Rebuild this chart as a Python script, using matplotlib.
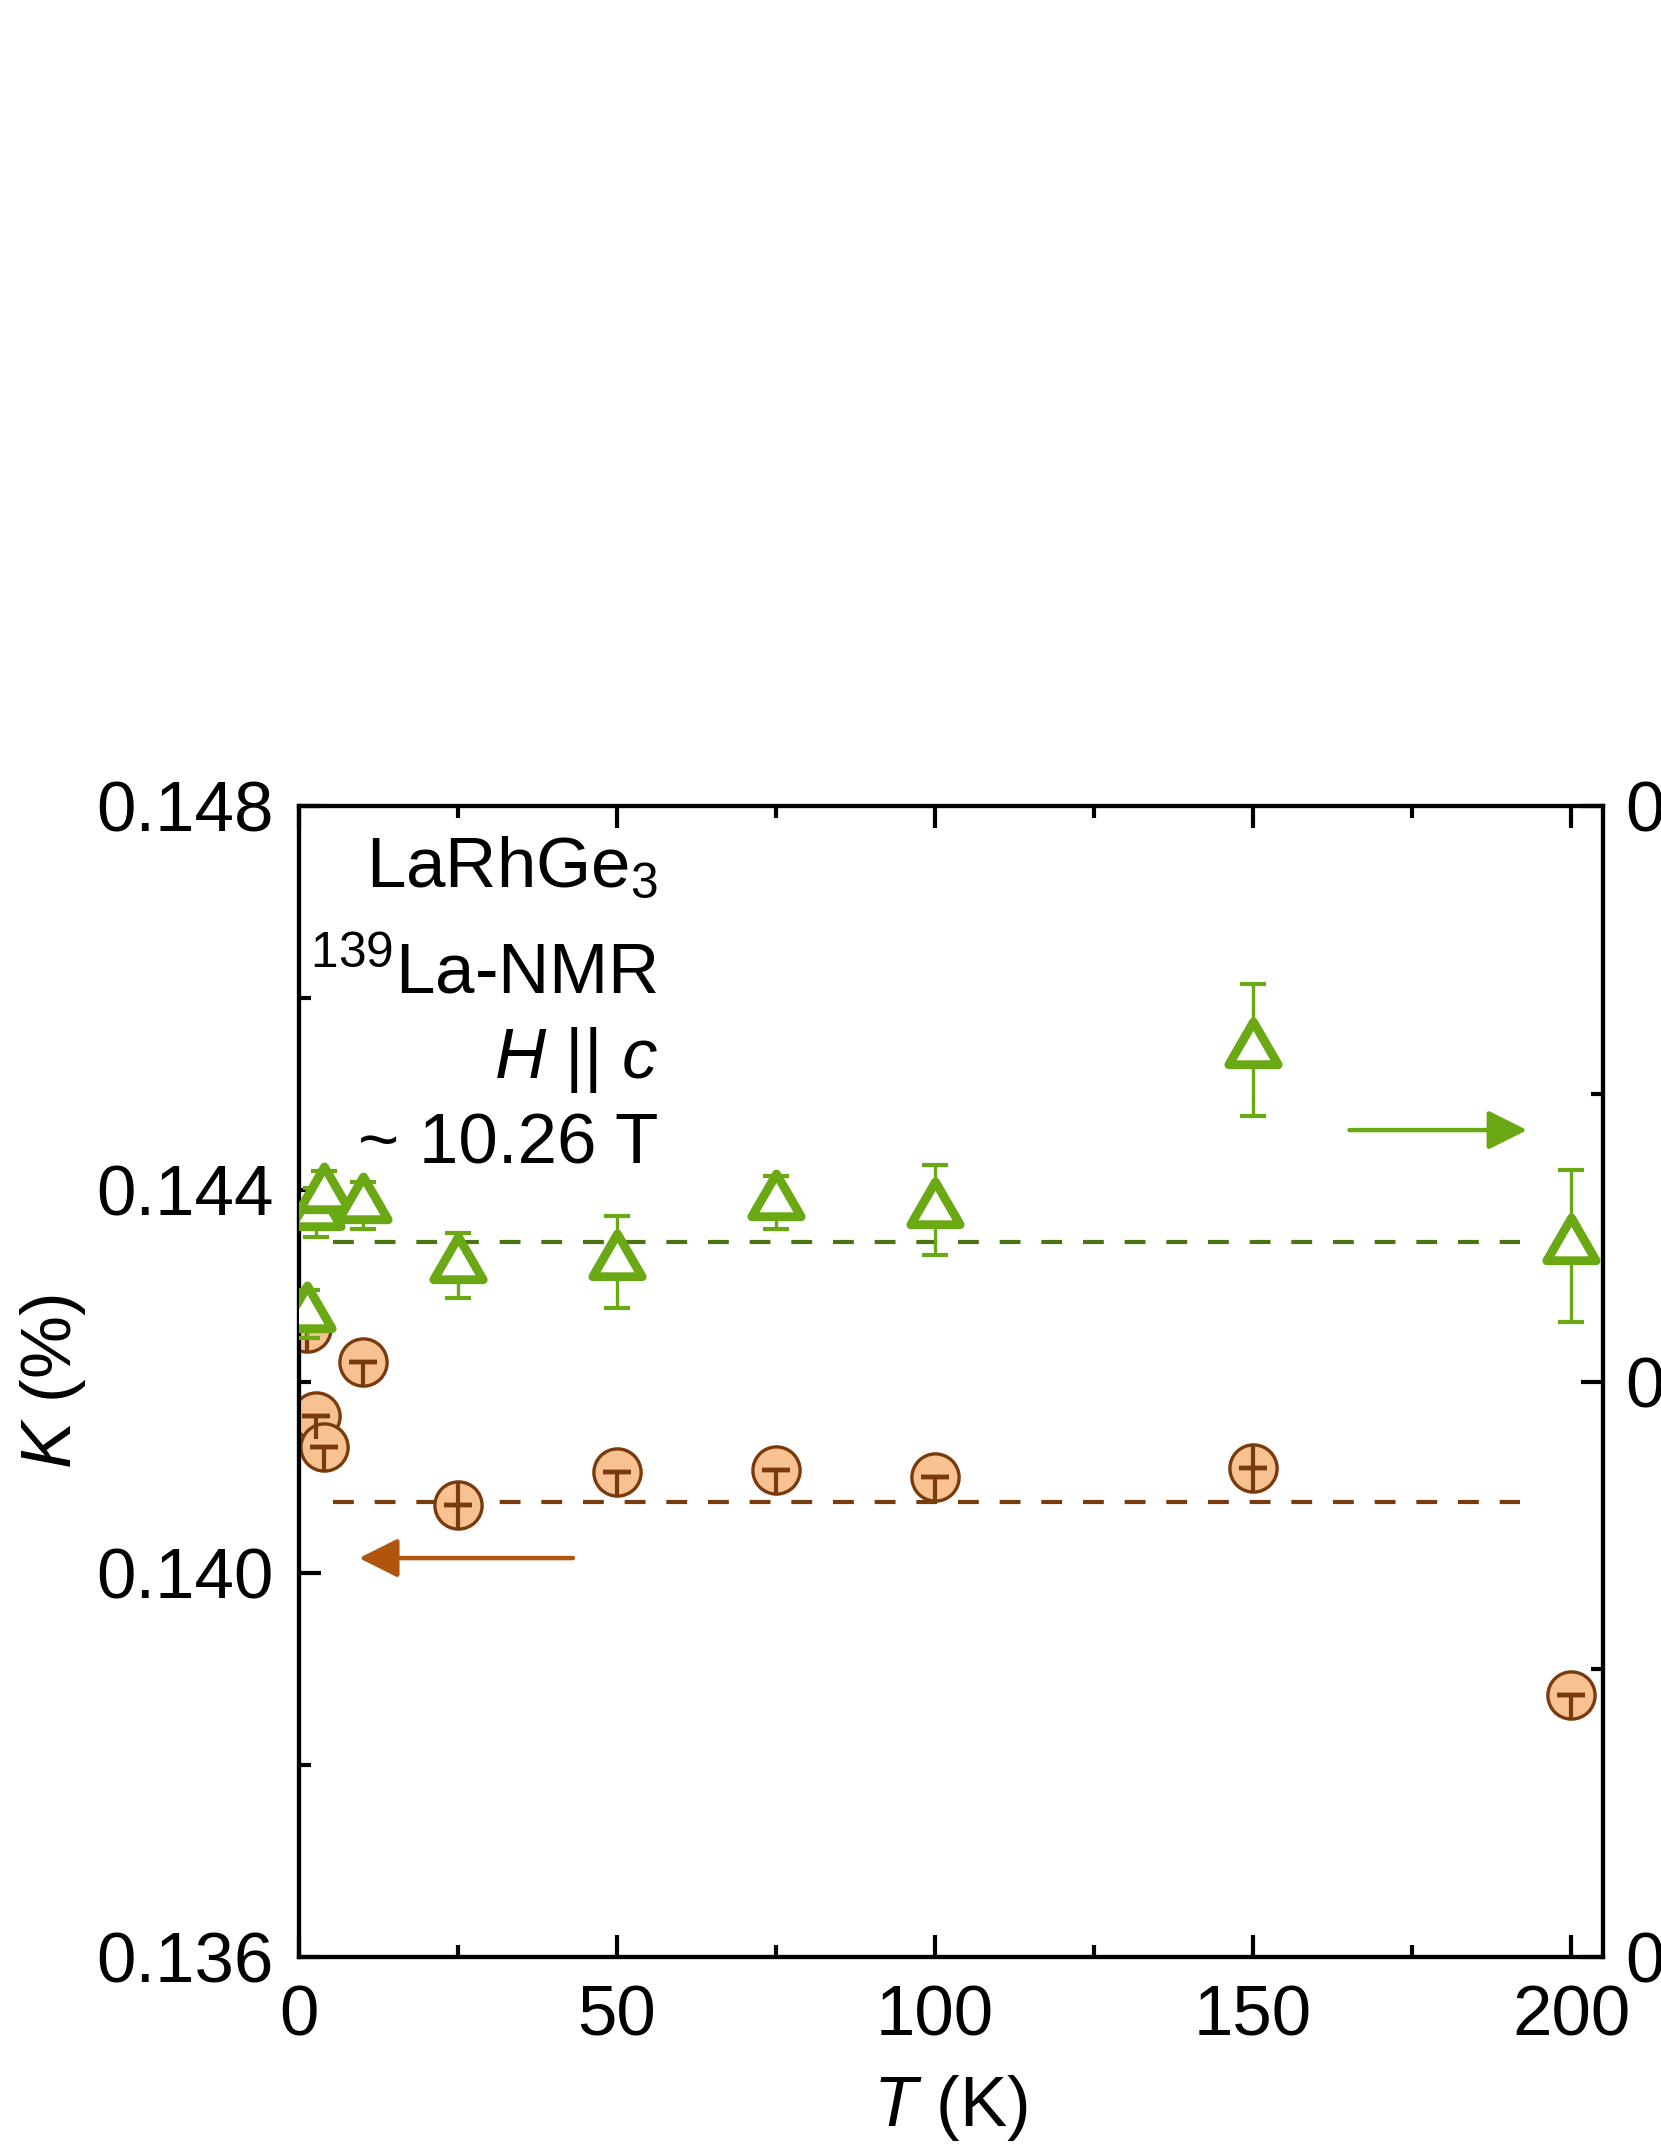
import matplotlib

matplotlib.use("Agg")
import matplotlib.pyplot as plt
from matplotlib.path import Path
from matplotlib.ticker import MultipleLocator, FormatStrFormatter

plt.rcParams["font.family"] = ["Liberation Sans", "DejaVu Sans"]
plt.rcParams["mathtext.fontset"] = "custom"
plt.rcParams["mathtext.rm"] = "Liberation Sans"
plt.rcParams["mathtext.it"] = "Liberation Sans:italic"

# temperature (K)
T = [1.3, 2.7, 4.0, 10, 25, 50, 75, 100, 150, 200]

# left axis: K (%) of the orange series
k_left = [0.14256, 0.14164, 0.14132, 0.14220, 0.14071, 0.14106, 0.14108, 0.14101, 0.14110, 0.13873]
k_left_lo = [0.00024] * 10
k_left_hi = [0.00024, 0, 0, 0, 0.00024, 0, 0, 0, 0.00024, 0]
k_left_mean = 0.14074

# right axis: K (%) of the green series
k_right = [0.3559, 0.3647, 0.3662, 0.3653, 0.3601, 0.3604, 0.3656, 0.3649, 0.3788, 0.3618]
k_right_err = [0.0021, 0.0021, 0.0021, 0.0020, 0.00285, 0.0040, 0.0023, 0.0039, 0.0057, 0.0066]
k_right_mean = 0.36215

ORANGE_FACE = "#F7C192"
ORANGE_EDGE = "#7A3B0C"
ORANGE_ARROW = "#B0540E"
GREEN = "#6AA814"
GREEN_DARK = "#4A7410"
FS = 51

fig = plt.figure(figsize=(16.61, 21.49), dpi=100)
ax = fig.add_axes([0.18, 0.0893, 0.7851, 0.5356])
ax2 = ax.twinx()

# orange circles, error bars drawn over the fill
ax.plot(T, k_left, "o", ms=34, mfc=ORANGE_FACE, mec=ORANGE_EDGE, mew=2.4, zorder=3)
ax.errorbar(T, k_left, yerr=[k_left_lo, k_left_hi], fmt="none", ecolor=ORANGE_EDGE,
            elinewidth=3, capsize=0, zorder=4)
ax.errorbar(T, k_left, yerr=[0] * len(T), fmt="none", ecolor=ORANGE_EDGE,
            elinewidth=3, capsize=10, capthick=3.2, zorder=4)
ax.plot([5.3, 192], [k_left_mean] * 2, ls=(0, (5, 5)), lw=3, color=ORANGE_EDGE, zorder=2)

# green triangles on the right axis
tri = Path([(-1, -0.577), (1, -0.577), (0, 1.155), (-1, -0.577)],
           [Path.MOVETO, Path.LINETO, Path.LINETO, Path.CLOSEPOLY])
ax2.errorbar(T, k_right, yerr=k_right_err, fmt="none", ecolor=GREEN, elinewidth=2.4,
             capsize=9.5, capthick=3, zorder=3)
ax2.plot(T, k_right, ls="none", marker=tri, ms=41, mfc="white", mec=GREEN, mew=6.4,
         zorder=4)
ax2.plot([5.3, 192], [k_right_mean] * 2, ls=(0, (5, 5)), lw=3, color=GREEN_DARK, zorder=2)

# arrows pointing at the axis each series belongs to
ax.annotate("", xy=(9.0, 0.14016), xytext=(43.5, 0.14016),
            arrowprops=dict(arrowstyle="-|>,head_length=2.4,head_width=1.2",
                            color=ORANGE_ARROW, lw=3.2))
ax2.annotate("", xy=(193.5, 0.37185), xytext=(164.7, 0.37185),
             arrowprops=dict(arrowstyle="-|>,head_length=2.4,head_width=1.2",
                             color=GREEN, lw=3.2))

ax.set_xlim(0, 205)
ax.set_ylim(0.136, 0.148)
ax2.set_ylim(0.30, 0.40)

ax.xaxis.set_major_locator(MultipleLocator(50))
ax.xaxis.set_minor_locator(MultipleLocator(25))
ax.yaxis.set_major_locator(MultipleLocator(0.004))
ax.yaxis.set_minor_locator(MultipleLocator(0.002))
ax.yaxis.set_major_formatter(FormatStrFormatter("%.3f"))
ax2.yaxis.set_major_locator(MultipleLocator(0.05))
ax2.yaxis.set_minor_locator(MultipleLocator(0.025))
ax2.yaxis.set_major_formatter(FormatStrFormatter("%.2f"))

ax.tick_params(which="both", direction="in", top=True, right=False, width=3,
               labelsize=FS)
ax.tick_params(which="major", length=16)
ax.tick_params(which="minor", length=8.5)
ax.tick_params(axis="y", pad=18)
ax.tick_params(axis="x", pad=20)
ax2.tick_params(which="both", direction="in", width=3, labelsize=FS, pad=16)
ax2.tick_params(which="major", length=16)
ax2.tick_params(which="minor", length=8.5)
for a in (ax, ax2):
    for sp in a.spines.values():
        sp.set_linewidth(3)

ax.set_xlabel(r"$\it{T}$ (K)", fontsize=FS, labelpad=16)
ax.set_ylabel(r"$\it{K}$ (%)", fontsize=FS, labelpad=6)

txt = dict(transform=ax.transAxes, ha="right", va="baseline", fontsize=FS)
ax.text(0.2753, 0.9296, r"LaRhGe$_3$", **txt)
ax.text(0.2753, 0.8375, r"$^{139}$La-NMR", **txt)
ax.text(0.2753, 0.7637, r"$\it{H}$ || $\it{c}$", **txt)
ax.text(0.2753, 0.6898, r"~ 10.26 T", **txt)

fig.savefig("out.png", dpi=100)
